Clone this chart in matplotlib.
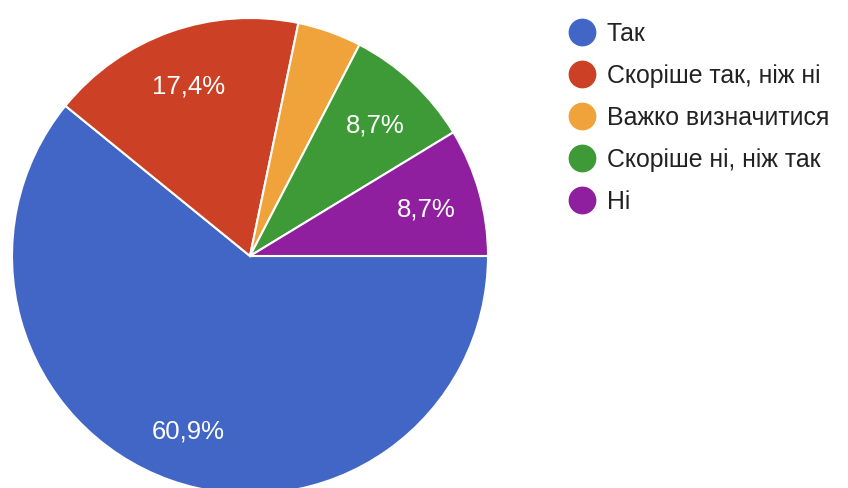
import matplotlib.pyplot as plt
from matplotlib.lines import Line2D

plt.rcParams['font.family'] = ['Liberation Sans', 'DejaVu Sans']

# відповіді (кількість респондентів, 23 всього)
answers = ['Так', 'Скоріше так, ніж ні', 'Важко визначитися', 'Скоріше ні, ніж так', 'Ні']
counts = [14, 4, 1, 2, 2]
colors = ['#4166c5', '#cc4125', '#f0a33a', '#3e9a36', '#8f1f9f']


def pct_label(p):
    if p < 5:
        return ''
    return f'{p:.1f}'.replace('.', ',') + '%'


fig = plt.figure(figsize=(8.48, 4.88), dpi=100)
ax = fig.add_axes([0, 0, 1, 1])

wedges, texts, autotexts = ax.pie(
    counts,
    colors=colors,
    startangle=0,
    counterclock=False,
    center=(250, 232),
    radius=238,
    autopct=pct_label,
    pctdistance=0.77,
    wedgeprops=dict(edgecolor='white', linewidth=1.5),
    textprops=dict(color='white', fontsize=18.5),
)
# center on the digits rather than on the full text box (comma descender)
for t in autotexts:
    x, y = t.get_position()
    t.set_position((x, y - 3))

ax.set_xlim(0, 848)
ax.set_ylim(0, 488)
ax.set_aspect('equal')
ax.axis('off')

handles = [Line2D([], [], marker='o', linestyle='none', markersize=19,
                  markerfacecolor=c, markeredgecolor=c) for c in colors]
ax.legend(handles, answers, loc='upper left',
          bbox_to_anchor=(570 / 848, 1 - 22 / 488),
          bbox_transform=fig.transFigure,
          frameon=False, fontsize=17.9, borderpad=0, borderaxespad=0,
          handlelength=0.98, handletextpad=0.5, labelspacing=0.72,
          labelcolor='#222222')

fig.savefig('out.png', dpi=100)
